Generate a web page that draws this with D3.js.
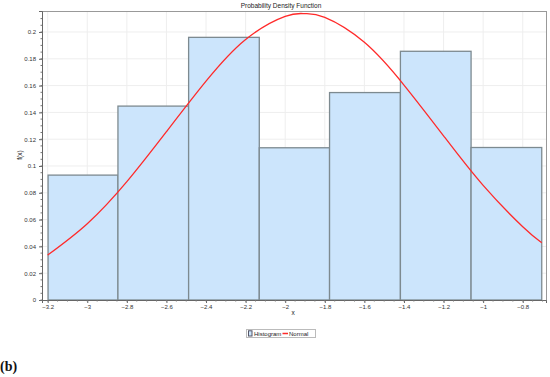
<!DOCTYPE html>
<html>
<head>
<meta charset="utf-8">
<script src="https://cdn.jsdelivr.net/npm/d3@7"></script>
<style>
  body { margin: 0; background: #fff; }
  svg { display: block; font-family: "Liberation Sans", Arial, sans-serif; }
</style>
</head>
<body>
<script>
// histogram bins (edges) and densities
const binEdges = [-3.198, -2.845, -2.488, -2.131, -1.776, -1.418, -1.061, -0.704];
const binHeights = [0.0932, 0.1447, 0.196, 0.1136, 0.1548, 0.1856, 0.1138];

// normal curve, read at points along x
const curveX = [-3.2, -3.0, -2.8, -2.6, -2.4, -2.2, -2.0, -1.9, -1.8, -1.6, -1.4, -1.2, -1.0, -0.8, -0.704];
const curveY = [0.0335, 0.0569, 0.0883, 0.1256, 0.1633, 0.1944, 0.2117, 0.2137, 0.2109, 0.1923, 0.1604, 0.1225, 0.0855, 0.0547, 0.0427];

const xTicks = [-3.2, -3, -2.8, -2.6, -2.4, -2.2, -2, -1.8, -1.6, -1.4, -1.2, -1, -0.8];
const yTicks = [0, 0.02, 0.04, 0.06, 0.08, 0.1, 0.12, 0.14, 0.16, 0.18, 0.2];

const W = 550, H = 377;
const plot = {left: 42, right: 546, top: 11, bottom: 300};

const svg = d3.select("body").append("svg")
    .attr("width", W)
    .attr("height", H);

const x = d3.scaleLinear().domain([-3.2287, -0.6825]).range([plot.left, plot.right]);
const y = d3.scaleLinear().domain([0, 0.21567]).range([plot.bottom, plot.top]);

// faint grid
svg.append("g")
    .selectAll("line.gx")
    .data(xTicks)
    .join("line")
    .attr("x1", d => x(d)).attr("x2", d => x(d))
    .attr("y1", plot.top).attr("y2", plot.bottom)
    .attr("stroke", "#eeeeee").attr("stroke-width", 1);
svg.append("g")
    .selectAll("line.gy")
    .data(yTicks.slice(1))
    .join("line")
    .attr("x1", plot.left).attr("x2", plot.right)
    .attr("y1", d => y(d)).attr("y2", d => y(d))
    .attr("stroke", "#eeeeee").attr("stroke-width", 1);

// bars
const bins = binHeights.map((h, i) => ({x0: binEdges[i], x1: binEdges[i + 1], h: h}));
svg.append("g")
    .selectAll("rect")
    .data(bins)
    .join("rect")
    .attr("x", d => x(d.x0))
    .attr("y", d => y(d.h))
    .attr("width", d => x(d.x1) - x(d.x0))
    .attr("height", d => y(0) - y(d.h))
    .attr("fill", "#cce5fc")
    .attr("stroke", "#7d8a90")
    .attr("stroke-width", 1.3);

// normal line
const pts = curveX.map((v, i) => [x(v), y(curveY[i])]);
svg.append("path")
    .attr("d", d3.line().curve(d3.curveNatural)(pts))
    .attr("fill", "none")
    .attr("stroke", "#ff2a2a")
    .attr("stroke-width", 1.3);

// plot frame
svg.append("rect")
    .attr("x", plot.left + 0.5).attr("y", plot.top + 0.5)
    .attr("width", plot.right - plot.left).attr("height", plot.bottom - plot.top)
    .attr("fill", "none")
    .attr("stroke", "#999")
    .attr("stroke-width", 1);

// axes
const xAxis = d3.axisBottom(x).tickValues(xTicks).tickSize(3).tickPadding(2)
    .tickFormat(d => d3.format("")(+d.toFixed(1)).replace("-", "-"));
const gx = svg.append("g")
    .attr("transform", `translate(0,${plot.bottom})`)
    .call(xAxis);
const yAxis = d3.axisLeft(y).tickValues(yTicks).tickSize(3).tickPadding(3)
    .tickFormat(d => +d.toFixed(2));
const gy = svg.append("g")
    .attr("transform", `translate(${plot.left},0)`)
    .call(yAxis);

// minor ticks
const xMinor = d3.range(-3.2, -0.68, 0.05);
svg.append("g").selectAll("line")
    .data(xMinor)
    .join("line")
    .attr("x1", d => x(d)).attr("x2", d => x(d))
    .attr("y1", plot.bottom).attr("y2", plot.bottom + 1.5)
    .attr("stroke", "#777");
const yMinor = d3.range(0, 0.215, 0.005);
svg.append("g").selectAll("line")
    .data(yMinor)
    .join("line")
    .attr("x1", plot.left - 1.5).attr("x2", plot.left)
    .attr("y1", d => y(d)).attr("y2", d => y(d))
    .attr("stroke", "#777");

[gx, gy].forEach(g => {
    g.select(".domain").attr("stroke", "#666");
    g.selectAll(".tick line").attr("stroke", "#666");
    g.selectAll(".tick text").attr("fill", "#333").style("font-size", "6px");
});

// title and labels
svg.append("text")
    .attr("x", 281).attr("y", 8)
    .attr("text-anchor", "middle")
    .style("font-size", "6.5px").attr("fill", "#222")
    .text("Probability Density Function");
svg.append("text")
    .attr("x", 293).attr("y", 315)
    .attr("text-anchor", "middle")
    .style("font-size", "6.5px").attr("fill", "#222")
    .text("x");
svg.append("text")
    .attr("transform", "translate(22,155) rotate(-90)")
    .attr("text-anchor", "middle")
    .style("font-size", "6.5px").attr("fill", "#222")
    .text("f(x)");

// legend
const lg = svg.append("g").attr("transform", "translate(246,329)");
lg.append("rect")
    .attr("x", 0.5).attr("y", 0.5).attr("width", 69).attr("height", 8)
    .attr("fill", "#fff").attr("stroke", "#bbb");
lg.append("rect")
    .attr("x", 2.5).attr("y", 1.8).attr("width", 3.5).attr("height", 5.2)
    .attr("fill", "#cce5fc").attr("stroke", "#556");
lg.append("text")
    .attr("x", 8).attr("y", 6.6)
    .style("font-size", "6px").attr("fill", "#222")
    .text("Histogram");
lg.append("line")
    .attr("x1", 36.5).attr("x2", 42).attr("y1", 4.5).attr("y2", 4.5)
    .attr("stroke", "#ff2a2a").attr("stroke-width", 1.5);
lg.append("text")
    .attr("x", 43).attr("y", 6.6)
    .style("font-size", "6px").attr("fill", "#222")
    .text("Normal");

// panel label
svg.append("text")
    .attr("x", 0).attr("y", 371)
    .style("font-family", "'Liberation Serif', 'Times New Roman', serif")
    .style("font-size", "14px").style("font-weight", "bold")
    .attr("fill", "#111")
    .text("(b)");
</script>
</body>
</html>
